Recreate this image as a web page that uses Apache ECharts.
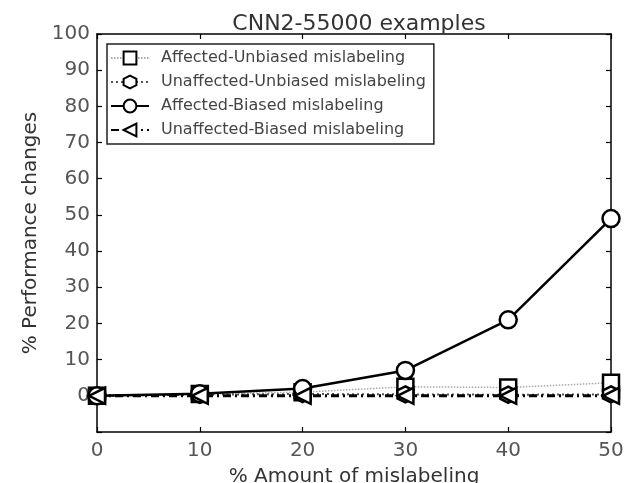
<!DOCTYPE html>
<html>
<head>
<meta charset="utf-8">
<script src="https://cdn.jsdelivr.net/npm/echarts@6/dist/echarts.min.js"></script>
<style>html,body{margin:0;padding:0;background:#fff}#c{width:626px;height:483px}</style>
</head>
<body>
<div id="c"></div>
<script>
const xValues = [0, 10, 20, 30, 40, 50];
const affectedUnbiased = [0, 0.5, 1, 2.5, 2.3, 3.6];
const unaffectedUnbiased = [0, 0.3, 0.5, 0.4, 0.3, 0.4];
const affectedBiased = [0, 0.6, 2, 7, 21, 49];
const unaffectedBiased = [0, 0, 0, 0, 0, 0];
const seriesNames = ['Affected-Unbiased mislabeling', 'Unaffected-Unbiased mislabeling', 'Affected-Biased mislabeling', 'Unaffected-Biased mislabeling'];
const titleText = 'CNN2-55000 examples';
const xName = '% Amount of mislabeling';
const yName = '% Performance changes';

const pair = arr => xValues.map((x, i) => [x, arr[i]]);
const hex = 'path://M0,-1 L0.866,-0.5 L0.866,0.5 L0,1 L-0.866,0.5 L-0.866,-0.5 Z';
const triLeft = 'path://M-1,0 L1,-1 L1,1 Z';
const font = 'DejaVu Sans';
const txt = '#333';

function mk(name, data, symbol, size, line) {
  return {
    name, type: 'line', data: pair(data), symbol, symbolSize: size,
    lineStyle: line,
    itemStyle: { color: '#fff', borderColor: '#000', borderWidth: 2.5 },
    emphasis: { disabled: true }, animation: false
  };
}
const frameLine = { show: true, onZero: false, lineStyle: { color: '#000', width: 1.5 } };
const tick = { inside: true, length: 5, lineStyle: { color: '#000', width: 1.2 } };

const chart = echarts.init(document.getElementById('c'), null, { renderer: 'canvas' });
chart.setOption({
  animation: false,
  title: { text: titleText, left: 354, textAlign: 'center', top: 8,
    textStyle: { fontFamily: font, fontSize: 22, fontWeight: 'normal', color: txt } },
  grid: { left: 97, right: 15, top: 34, bottom: 51, outerBoundsMode: 'none', containLabel: false },
  legend: {
    orient: 'vertical', left: 107, top: 44, itemGap: 8, itemWidth: 38, itemHeight: 16,
    borderColor: '#222', borderWidth: 1.5, padding: [6, 8, 6, 3],
    textStyle: { fontFamily: font, fontSize: 16, color: '#444', padding: [0, 0, 0, 7] },
    data: seriesNames
  },
  xAxis: [{
    type: 'value', min: 0, max: 50, interval: 10, name: xName, nameLocation: 'middle', nameGap: 35,
    nameTextStyle: { fontFamily: font, fontSize: 20, color: txt },
    axisLine: frameLine, axisTick: tick,
    axisLabel: { fontFamily: font, fontSize: 20, color: '#555', margin: 9 },
    splitLine: { show: false }
  }, {
    type: 'value', position: 'top', min: 0, max: 50, interval: 10,
    axisLine: frameLine, axisTick: tick,
    axisLabel: { show: false }, splitLine: { show: false }
  }],
  yAxis: [{
    type: 'value', min: -10, max: 100, interval: 10, name: yName, nameLocation: 'middle', nameGap: 53,
    nameTextStyle: { fontFamily: font, fontSize: 20, color: txt },
    axisLine: frameLine, axisTick: tick,
    axisLabel: { fontFamily: font, fontSize: 20, color: '#555', margin: 7, formatter: v => v < 0 ? '' : v },
    splitLine: { show: false }
  }, {
    type: 'value', position: 'right', min: -10, max: 100, interval: 10,
    axisLine: frameLine, axisTick: tick,
    axisLabel: { show: false }, splitLine: { show: false }
  }],
  series: [
    mk(seriesNames[0], affectedUnbiased, 'rect', 16, { color: '#aaa', width: 1.5, type: [1.5, 1.5] }),
    mk(seriesNames[1], unaffectedUnbiased, hex, 16, { color: '#555', width: 2, type: [2, 3] }),
    mk(seriesNames[2], affectedBiased, 'circle', 17, { color: '#000', width: 2.5, type: 'solid' }),
    mk(seriesNames[3], unaffectedBiased, triLeft, 16, { color: '#000', width: 3, type: [8, 4, 2, 4] })
  ]
});
</script>
</body>
</html>
